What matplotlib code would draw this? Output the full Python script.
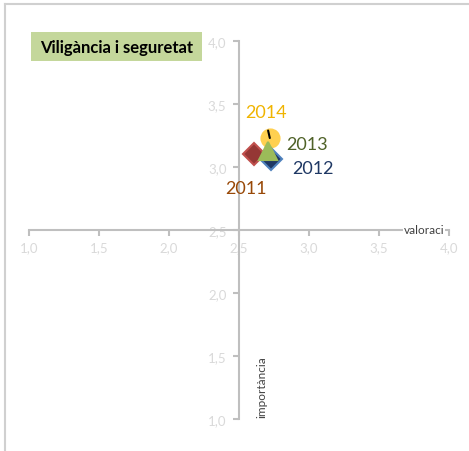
import matplotlib.pyplot as plt
from matplotlib.lines import Line2D
from matplotlib.patches import Rectangle
from matplotlib.ticker import FuncFormatter

plt.rcParams['font.family'] = ['Lato', 'DejaVu Sans']

# dades
anys = ['2011', '2012', '2013', '2014']
valoracio = [2.61, 2.73, 2.71, 2.72]
importancia = [3.10, 3.06, 3.13, 3.23]
marcadors = ['D', 'D', '^', 'o']
farciment = ['#953735', '#1f3864', '#9bbb59', '#ffd050']
vores = ['#c0504d', '#4f81bd', '#9bbb59', '#ffd050']
colors_text = ['#984807', '#1f3864', '#4f6228', '#f0b400']
mides = [11, 11, 13, 13]
ticks = [1.0, 1.5, 2.0, 2.5, 3.0, 3.5, 4.0]

# posicions de les etiquetes (punts de desplaçament)
desplacaments = [(-6, -24), (15, -6), (13, 5), (-3, 19)]
alineacio = ['center', 'left', 'left', 'center']

fig = plt.figure(figsize=(4.69, 4.52), dpi=100)
ax = fig.add_axes([29 / 469, 32 / 452, 420 / 469, 378 / 452])
ax.set_xlim(1, 4)
ax.set_ylim(1, 4)

gris = '#bfbfbf'
for s in ['top', 'right']:
    ax.spines[s].set_visible(False)
ax.spines['left'].set_position(('data', 2.5))
ax.spines['bottom'].set_position(('data', 2.5))
for s in ['left', 'bottom']:
    ax.spines[s].set_color(gris)
    ax.spines[s].set_linewidth(1.5)

fmt = FuncFormatter(lambda v, p: f'{v:.1f}'.replace('.', ','))
ax.set_xticks(ticks)
ax.set_yticks(ticks)
ax.xaxis.set_major_formatter(fmt)
ax.yaxis.set_major_formatter(fmt)
ax.tick_params(axis='both', colors=gris, labelcolor='#d9d9d9', labelsize=9.5,
               length=4, width=1.5)
ax.tick_params(axis='x', pad=4)
ax.tick_params(axis='y', pad=5)

# ordre de dibuix: 2014, 2011, 2012, 2013
ordre = [3, 0, 1, 2]
for i in ordre:
    ax.plot(valoracio[i], importancia[i], marker=marcadors[i], ms=mides[i],
            mfc=farciment[i], mec=vores[i], mew=1.5, ls='none', zorder=3 + ordre.index(i))

for i in range(len(anys)):
    if anys[i] == '2014':
        ax.annotate(anys[i], (valoracio[i], importancia[i]), xytext=desplacaments[i],
                    textcoords='offset points', ha=alineacio[i], va='center',
                    fontsize=13, color=colors_text[i], zorder=10,
                    arrowprops=dict(arrowstyle='-', color='black', lw=1.5,
                                    shrinkA=6, shrinkB=0, relpos=(0.5, 0)))
    else:
        ax.annotate(anys[i], (valoracio[i], importancia[i]), xytext=desplacaments[i],
                    textcoords='offset points', ha=alineacio[i], va='center',
                    fontsize=13, color=colors_text[i], zorder=10)

# títols d'eixos
ax.text(3.82, 2.5, 'valoraci', ha='center', va='center', fontsize=8.5, color='#404040',
        bbox=dict(facecolor='white', edgecolor='none', pad=0.5), zorder=5)
ax.text(2.66, 1.26, 'importància', rotation=90, ha='center', va='center',
        fontsize=8.5, color='#404040')

# títol
fig.add_artist(Rectangle((31 / 469, 1 - 62 / 452), 171 / 469, 29 / 452,
                         transform=fig.transFigure, facecolor='#c4d79b', edgecolor='none'))
fig.text(117 / 469, 1 - 48 / 452, 'Viligància i seguretat', ha='center', va='center',
         fontsize=12, fontweight='bold', color='black')

# vora del gràfic
fig.add_artist(Line2D([4.5 / 469, 4.5 / 469], [0, 1 - 4.5 / 452], color='#d0d0d0', lw=1.5))
fig.add_artist(Line2D([4.5 / 469, 1], [1 - 4.5 / 452, 1 - 4.5 / 452], color='#d0d0d0', lw=1.5))

fig.savefig('out.png', dpi=100)
